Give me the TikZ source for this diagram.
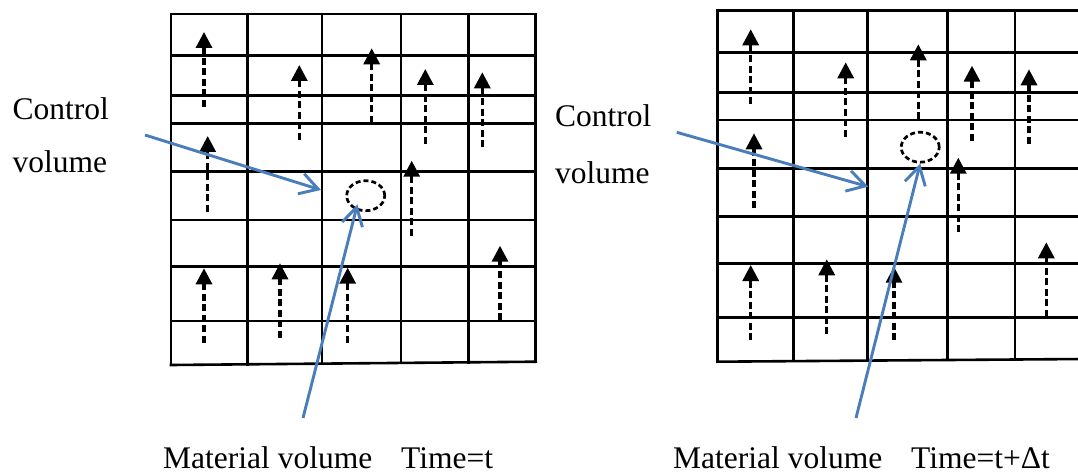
\documentclass[tikz,border=0pt]{standalone}
\usepackage{fontspec}
\setmainfont{Liberation Serif}
\usetikzlibrary{arrows.meta,shapes.geometric,calc}
\definecolor{cvblue}{RGB}{74,126,187}
\tikzset{
  gridline/.style={line width=2.6pt, black, line cap=rect},
  flowarrow/.style={line width=3.2pt, black, dash pattern=on 7pt off 3.5pt, -{Triangle[length=16pt,width=16pt]}},
  bluearrow/.style={line width=2.9pt, cvblue, -{Straight Barb[length=18pt,width=21pt,line width=2.9pt]}},
  matvol/.style={ellipse, draw, line width=2.7pt, dash pattern=on 5pt off 3pt, minimum width=38pt, minimum height=30pt, inner sep=0pt},
  txt/.style={inner sep=0pt, anchor=base west, font=\fontsize{31.5}{37}\selectfont},
}
\begin{document}
\begin{tikzpicture}[x=1pt,y=-1pt]
\useasboundingbox (0,0) rectangle (1078,473);
\begin{scope}
\clip (0,0) rectangle (1078,473);
% ---------- left grid (Time = t)
\foreach \x in {171,247.3,322,401,468.7,535.7}
  \draw[gridline] (\x,14) -- (\x,{365-(\x-171)*0.00905});
\foreach \y in {14,55.7,95.7,123.3,171.7,220,266.7,321}
  \draw[gridline] (171,\y) -- (535.7,\y);
\draw[gridline] (171,365) -- (535.7,361.7);
% ---------- right grid (Time = t + dt)
\foreach \x in {717.3,793.7,867.7,947.7,1015,1084}
  \draw[gridline] (\x,10.7) -- (\x,{361.7-(\x-717.3)*0.0074});
\foreach \y in {10.7,52.3,92.3,120,168.3,216.7,263.3,317.3}
  \draw[gridline] (717.3,\y) -- (1084,\y);
\draw[gridline] (717.3,361.7) -- (1084,359);
% ---------- dashed flow arrows
\foreach \x/\tip/\tail in {204/32/107, 299.3/65/140, 371.7/48.3/122.7, 425.3/69/144, 482.3/72.3/147.3,
  207.7/136/211.7, 411.7/160.7/235.7, 500/245.7/320, 204/268.3/342.7, 280/263.3/337.7, 347.7/267.7/342.7,
  750.7/29.3/104.3, 845.7/62.3/136.7, 918.3/44.3/119.3, 972/65.7/140.7, 1029/69.3/144,
  754/133.3/208.3, 958.3/157.7/232.3, 1046.3/242.3/316.7, 750.7/265/340, 826.7/259.3/334.3, 894/266.7/340}
  \draw[flowarrow] (\x,\tail) -- (\x,\tip);
% ---------- material volumes
\node[matvol] (mv1) at (365.7,195.7) {};
\node[matvol] (mv2) at (920.2,147.2) {};
% ---------- texts
\node[txt] (cv1a) at (12.5,120) {Control};
\node[txt] (cv1b) at (12.5,173) {volume};
\node[txt] (cv2a) at (555,127) {Control};
\node[txt] (cv2b) at (555,183) {volume};
\node[txt] (mt1) at (163,468) {Material volume};
\node[txt] (tm1) at (401,468) {Time=t};
\node[txt] (mt2) at (673,468) {Material volume};
\node[txt] (tm2) at (911,468) {Time=t+Δt};
% ---------- blue pointers
\coordinate (cvs1) at (145,135);
\coordinate (cvt1) at (321,190);
\coordinate (cvs2) at (676.7,132.3);
\coordinate (cvt2) at (868.3,186.7);
\coordinate (ms1) at (303,418);
\coordinate (mtip1) at ($(mv1)+(-8.3,8.7)$);
\coordinate (ms2) at (856,418);
\draw[bluearrow] (cvs1) -- (cvt1);
\draw[bluearrow] (cvs2) -- (cvt2);
\draw[bluearrow] (ms1) -- (mtip1);
\draw[bluearrow] (ms2) -- (mv2.south);
\end{scope}
\end{tikzpicture}
\end{document}
